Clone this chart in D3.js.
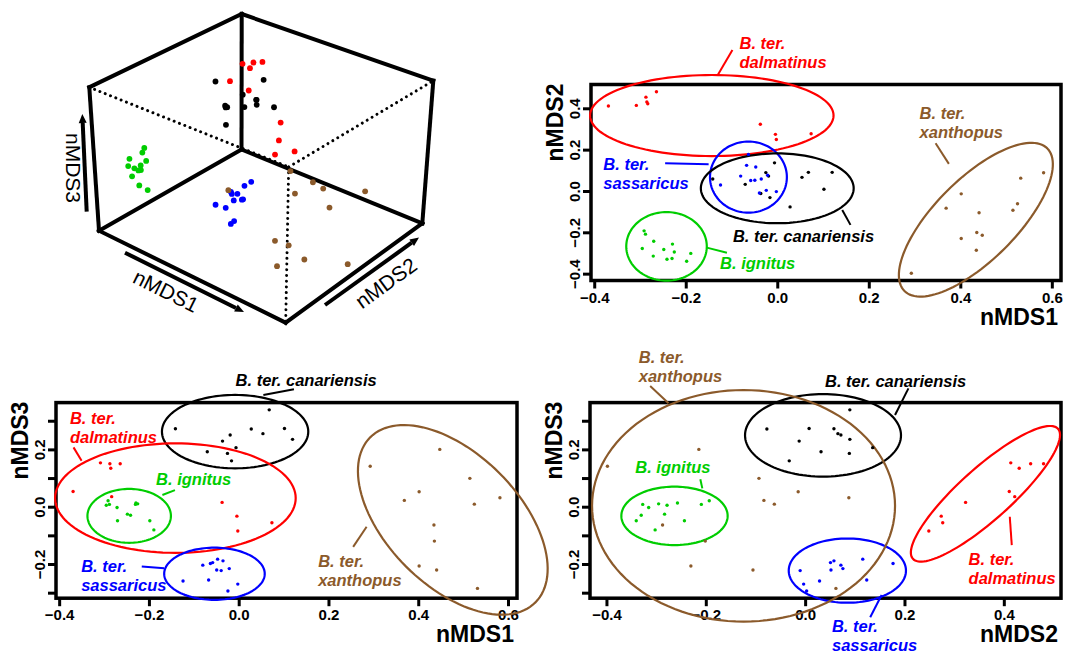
<!DOCTYPE html>
<html lang="en">
<head>
<meta charset="utf-8">
<title>nMDS ordination</title>
<script src="https://d3js.org/d3.v7.min.js"></script>
<style>
  body { margin: 0; background: #fff; }
  text { font-family: "Liberation Sans", Arial, Helvetica, sans-serif; }
</style>
</head>
<body>
<div id="chart"></div>
<script>
// specimen scores, one row per bee: [nMDS1, nMDS2, nMDS3]
const canariensis = [
  [0.068, 0.090, 0.338], [0.054, 0.066, 0.255], [-0.019, 0.072, 0.250],
  [0.120, 0.090, 0.235], [-0.036, -0.012, 0.229], [-0.006, 0.136, 0.206],
  [-0.070, 0.032, 0.192], [-0.025, 0.089, 0.186], [-0.016, -0.032, 0.160],
  [-0.141, 0.058, 0.272], [0.028, -0.077, 0.271], [0.102, 0.008, 0.273]
];
const dalmatinus = [
  [-0.369, 0.411, 0.053], [-0.308, 0.414, 0.153], [-0.287, 0.454, 0.150],
  [-0.285, 0.431, 0.134], [-0.283, 0.422, 0.035], [-0.264, 0.480, 0.150],
  [-0.037, 0.323, 0.015], [-0.004, 0.274, -0.033], [-0.002, 0.249, -0.085],
  [0.074, 0.277, -0.056]
];
const sassaricus = [
  [-0.024, 0.003, -0.294], [-0.002, -0.003, -0.270], [-0.124, 0.029, -0.259],
  [-0.067, 0.124, -0.256], [-0.049, 0.052, -0.221], [-0.039, -0.010, -0.223],
  [-0.021, 0.076, -0.216], [-0.080, 0.072, -0.204], [-0.063, 0.177, -0.198],
  [-0.058, 0.051, -0.195], [-0.035, 0.058, -0.189], [-0.047, 0.116, -0.183]
];
const ignitus = [
  [-0.189, -0.302, -0.081], [-0.198, -0.340, -0.049], [-0.270, -0.243, -0.049],
  [-0.241, -0.330, -0.030], [-0.248, -0.283, -0.026], [-0.271, -0.315, -0.003],
  [-0.295, -0.278, 0.005], [-0.291, -0.193, 0.021], [-0.288, -0.209, 0.008],
  [-0.230, -0.327, 0.008], [-0.229, -0.257, 0.013], [-0.225, -0.295, 0.010]
];
const xanthopus = [
  [0.293, -0.398, 0.141], [0.369, -0.083, 0.022], [0.402, -0.014, 0.052],
  [0.402, -0.230, -0.207], [0.435, -0.287, -0.064], [0.436, -0.201, -0.120],
  [0.441, -0.105, -0.221], [0.448, -0.214, 0.200], [0.515, -0.093, 0.099],
  [0.525, -0.062, 0.009], [0.532, 0.062, -0.285], [0.582, 0.088, 0.031]
];

const groupNames = ["canariensis", "dalmatinus", "sassaricus", "ignitus", "xanthopus"];
const groupData = { canariensis, dalmatinus, sassaricus, ignitus, xanthopus };
const groupColor = {
  canariensis: "#000000", dalmatinus: "#FF0000", sassaricus: "#0000FF",
  ignitus: "#00CD00", xanthopus: "#8B5A2B"
};

// group ellipses per panel: [group, cx, cy, ux, uy, vx, vy] (centre + two conjugate semi-axes)
const ell12 = [
  ["dalmatinus", -0.143, 0.365, 0.266, 0, 0, 0.196],
  ["sassaricus", -0.063, 0.067, 0.084, 0, 0, 0.172],
  ["canariensis", 0.000, 0.013, 0.167, 0, 0, 0.169],
  ["ignitus", -0.242, -0.268, 0.088, 0, 0, 0.166],
  ["xanthopus", 0.434, -0.139, 0.156, 0.345, 0.063, -0.139]
];
const ell13 = [
  ["canariensis", -0.008, 0.262, 0.163, 0, 0, 0.128],
  ["dalmatinus", -0.141, 0.030, 0.268, 0, 0, 0.191],
  ["ignitus", -0.244, -0.032, 0.093, 0, 0, 0.094],
  ["sassaricus", -0.054, -0.234, 0.112, 0, 0, 0.091],
  ["xanthopus", 0.477, -0.046, 0.184, -0.288, 0.104, 0.163]
];
const ell23 = [
  ["canariensis", 0.036, 0.249, 0.157, 0, 0, 0.144],
  ["ignitus", -0.263, -0.032, 0.107, 0, 0, 0.102],
  ["sassaricus", 0.085, -0.223, 0.118, 0, 0, 0.112],
  ["dalmatinus", 0.363, 0.045, 0.146, 0.227, 0.035, -0.067],
  ["xanthopus", -0.124, 0.003, 0.305, 0, 0, 0.404]
];

// group labels: [group, x, y, lines] and leader lines: [group, x1, y1, x2, y2]
const lab12 = [
  ["dalmatinus", -0.0825, 0.687, ["B. ter.", "dalmatinus"]],
  ["sassaricus", -0.380, 0.102, ["B. ter.", "sassaricus"]],
  ["canariensis", -0.097, -0.247, ["B. ter. canariensis"]],
  ["ignitus", -0.125, -0.379, ["B. ignitus"]],
  ["xanthopus", 0.311, 0.347, ["B. ter.", "xanthopus"]]
];
const lead12 = [
  ["dalmatinus", -0.098, 0.682, -0.130, 0.561],
  ["sassaricus", -0.245, 0.134, -0.150, 0.129],
  ["canariensis", 0.142, -0.092, 0.160, -0.164],
  ["ignitus", -0.154, -0.274, -0.110, -0.299],
  ["xanthopus", 0.346, 0.231, 0.375, 0.131]
];
const lab13 = [
  ["canariensis", -0.007, 0.421, ["B. ter. canariensis"]],
  ["dalmatinus", -0.376, 0.288, ["B. ter.", "dalmatinus"]],
  ["ignitus", -0.184, 0.076, ["B. ignitus"]],
  ["sassaricus", -0.351, -0.228, ["B. ter.", "sassaricus"]],
  ["xanthopus", 0.177, -0.209, ["B. ter.", "xanthopus"]]
];
const lead13 = [
  ["canariensis", 0.055, 0.390, 0.123, 0.410],
  ["dalmatinus", -0.368, 0.207, -0.350, 0.160],
  ["ignitus", -0.142, 0.058, -0.170, 0.041],
  ["sassaricus", -0.216, -0.209, -0.166, -0.215],
  ["xanthopus", 0.255, -0.140, 0.285, -0.070]
];
const lab23 = [
  ["xanthopus", -0.335, 0.500, ["B. ter.", "xanthopus"]],
  ["canariensis", 0.040, 0.416, ["B. ter. canariensis"]],
  ["ignitus", -0.342, 0.119, ["B. ignitus"]],
  ["dalmatinus", 0.329, -0.203, ["B. ter.", "dalmatinus"]],
  ["sassaricus", 0.054, -0.436, ["B. ter.", "sassaricus"]]
];
const lead23 = [
  ["xanthopus", -0.312, 0.421, -0.275, 0.361],
  ["canariensis", 0.208, 0.413, 0.181, 0.320],
  ["ignitus", -0.211, 0.096, -0.207, 0.064],
  ["dalmatinus", 0.412, -0.035, 0.416, -0.134],
  ["sassaricus", 0.154, -0.308, 0.131, -0.386]
];

const ticks1 = [-0.4, -0.2, 0, 0.2, 0.4, 0.6];
const ticks2 = [-0.4, -0.2, 0, 0.2, 0.4];
const ticks3 = [-0.3, -0.2, -0.1, 0, 0.1, 0.2, 0.3];
const ticks3Labelled = [-0.2, 0, 0.2];
const axisNames = ["nMDS1", "nMDS2", "nMDS3"];

const W = 1069, H = 653;
const svg = d3.select("#chart").append("svg").attr("width", W).attr("height", H);

const allPts = groupNames.flatMap(g => groupData[g].map(p => ({ g: g, p: p })));
// R style: data range padded by 4%
const paddedExtent = (i) => {
  const e = d3.extent(allPts, d => d.p[i]);
  const pad = (e[1] - e[0]) * 0.04;
  return [e[0] - pad, e[1] + pad];
};
const fmt = (v) => d3.format(".1f")(v).replace("-", "\u2212");

const panels = [
  { xi: 0, yi: 1, box: [591, 84.5, 1061, 280.5], xt: ticks1, yt: ticks2, yl: ticks2, ell: ell12, lab: lab12, lead: lead12 },
  { xi: 0, yi: 2, box: [56, 402.6, 517, 598.2], xt: ticks1, yt: ticks3, yl: ticks3Labelled, ell: ell13, lab: lab13, lead: lead13 },
  { xi: 1, yi: 2, box: [590, 402.6, 1061, 598.2], xt: ticks2, yt: ticks3, yl: ticks3Labelled, ell: ell23, lab: lab23, lead: lead23 }
];

panels.forEach((pn) => {
  const [x0, y0, x1, y1] = pn.box;
  const x = d3.scaleLinear().domain(paddedExtent(pn.xi)).range([x0, x1]);
  const y = d3.scaleLinear().domain(paddedExtent(pn.yi)).range([y1, y0]);
  const g = svg.append("g");

  // x axis
  g.append("g")
    .attr("transform", "translate(0," + y1 + ")")
    .call(d3.axisBottom(x).tickValues(pn.xt).tickSize(8).tickFormat(fmt))
    .call(a => a.select(".domain").remove())
    .call(a => a.selectAll("line").attr("stroke-width", 3))
    .call(a => a.selectAll("text").attr("y", 22).attr("dy", null)
      .style("font-size", "15px").style("font-weight", "bold"));

  // y axis, labels rotated like R's las = 0
  g.append("g")
    .attr("transform", "translate(" + x0 + ",0)")
    .call(d3.axisLeft(y).tickValues(pn.yt).tickSize(8)
      .tickFormat(v => pn.yl.some(l => Math.abs(l - v) < 1e-9) ? fmt(v) : ""))
    .call(a => a.select(".domain").remove())
    .call(a => a.selectAll("line").attr("stroke-width", 3))
    .call(a => a.selectAll("text").attr("transform", "rotate(-90)")
      .attr("x", 0).attr("y", -11).attr("dy", null).attr("text-anchor", "middle")
      .style("font-size", "15px").style("font-weight", "bold"));

  g.append("rect")
    .attr("x", x0).attr("y", y0).attr("width", x1 - x0).attr("height", y1 - y0)
    .attr("fill", "none").attr("stroke", "#000").attr("stroke-width", 3.5);

  g.append("text")
    .attr("x", x1 - 3).attr("y", y1 + 44)
    .attr("text-anchor", "end")
    .style("font-size", "23px").style("font-weight", "bold")
    .text(axisNames[pn.xi]);

  g.append("text")
    .attr("transform", "translate(" + (x0 - 28) + "," + (y0 - 1) + ") rotate(-90)")
    .attr("text-anchor", "end")
    .style("font-size", "23px").style("font-weight", "bold")
    .text(axisNames[pn.yi]);

  // ellipses
  const ts = d3.range(0, 2 * Math.PI, Math.PI / 60);
  const ellLine = d3.line().curve(d3.curveLinearClosed);
  g.selectAll(null).data(pn.ell).enter().append("path")
    .attr("d", (e) => ellLine(ts.map(t => [
      x(e[1] + e[3] * Math.cos(t) + e[5] * Math.sin(t)),
      y(e[2] + e[4] * Math.cos(t) + e[6] * Math.sin(t))
    ])))
    .attr("fill", "none")
    .attr("stroke", e => groupColor[e[0]])
    .attr("stroke-width", 2.2);

  // leader lines
  g.selectAll(null).data(pn.lead).enter().append("line")
    .attr("x1", d => x(d[1])).attr("y1", d => y(d[2]))
    .attr("x2", d => x(d[3])).attr("y2", d => y(d[4]))
    .attr("stroke", d => groupColor[d[0]])
    .attr("stroke-width", 2);

  // points
  g.selectAll(null).data(allPts).enter().append("circle")
    .attr("cx", d => x(d.p[pn.xi]))
    .attr("cy", d => y(d.p[pn.yi]))
    .attr("r", 1.7)
    .attr("fill", d => groupColor[d.g]);

  // group labels
  const lt = g.selectAll(null).data(pn.lab).enter().append("text")
    .attr("x", d => x(d[1])).attr("y", d => y(d[2]))
    .attr("fill", d => groupColor[d[0]])
    .style("font-size", "16.5px").style("font-weight", "bold").style("font-style", "italic");
  lt.selectAll("tspan").data(d => d[3].map(s => [d[1], s])).enter().append("tspan")
    .attr("x", function () { return d3.select(this.parentNode).attr("x"); })
    .attr("dy", (d, i) => i === 0 ? 0 : 19)
    .text(d => d[1]);
});

// ---- 3D perspective box (top left) ----
const corner = {
  BL: [99, 230.7], BF: [285.7, 322.7], BR: [422.3, 223.3], BB: [241.5, 149.5],
  TL: [89.3, 87.3], TF: [288.7, 167], TR: [433.3, 80.7], TB: [241.7, 14]
};
const u = d3.scaleLinear().domain(d3.extent(allPts, d => d.p[0])).range([0, 1]);
const v = d3.scaleLinear().domain(d3.extent(allPts, d => d.p[1])).range([0, 1]);
const w = d3.scaleLinear().domain(d3.extent(allPts, d => d.p[2])).range([0, 1]);

const bilin = (a, b, c, d, s, t) => [0, 1].map(k =>
  (1 - s) * (1 - t) * a[k] + s * (1 - t) * b[k] + s * t * c[k] + (1 - s) * t * d[k]);
const project = (p) => {
  const s = u(p[0]), t = v(p[1]), h = w(p[2]);
  const lo = bilin(corner.BL, corner.BF, corner.BR, corner.BB, s, t);
  const hi = bilin(corner.TL, corner.TF, corner.TR, corner.TB, s, t);
  return [lo[0] + (hi[0] - lo[0]) * h, lo[1] + (hi[1] - lo[1]) * h];
};

const g3 = svg.append("g");
const solidEdges = [["TB", "TL"], ["TB", "TR"], ["TB", "BB"], ["TL", "BL"], ["TR", "BR"],
  ["BL", "BF"], ["BF", "BR"], ["BL", "BB"], ["BB", "BR"]];
const dottedEdges = [["TL", "TF"], ["TF", "TR"], ["TF", "BF"]];

g3.selectAll(null).data(dottedEdges).enter().append("line")
  .attr("x1", d => corner[d[0]][0]).attr("y1", d => corner[d[0]][1])
  .attr("x2", d => corner[d[1]][0]).attr("y2", d => corner[d[1]][1])
  .attr("stroke", "#000").attr("stroke-width", 3)
  .attr("stroke-linecap", "round").attr("stroke-dasharray", "0.01 5.7");
g3.selectAll(null).data(solidEdges).enter().append("line")
  .attr("x1", d => corner[d[0]][0]).attr("y1", d => corner[d[0]][1])
  .attr("x2", d => corner[d[1]][0]).attr("y2", d => corner[d[1]][1])
  .attr("stroke", "#000").attr("stroke-width", 4).attr("stroke-linecap", "square");

g3.selectAll(null).data(allPts).enter().append("circle")
  .attr("cx", d => project(d.p)[0])
  .attr("cy", d => project(d.p)[1])
  .attr("r", 2.9)
  .attr("fill", d => groupColor[d.g]);

// axis arrows with their names
const arrows = [
  { from: [86.7, 211.7], to: [82.3, 114], name: "nMDS3", at: [73, 168], rot: 90 },
  { from: [125, 252.7], to: [244, 312], name: "nMDS1", at: [166, 291], rot: 26.5 },
  { from: [325, 305], to: [419, 237.5], name: "nMDS2", at: [386, 283], rot: -36 }
];
arrows.forEach((a) => {
  const dx = a.to[0] - a.from[0], dy = a.to[1] - a.from[1];
  const len = Math.hypot(dx, dy), ux = dx / len, uy = dy / len;
  const hl = 9, hw = 4;
  const base = [a.to[0] - ux * hl, a.to[1] - uy * hl];
  g3.append("line")
    .attr("x1", a.from[0]).attr("y1", a.from[1])
    .attr("x2", base[0]).attr("y2", base[1])
    .attr("stroke", "#000").attr("stroke-width", 4);
  g3.append("path")
    .attr("d", "M" + a.to + "L" + [base[0] - uy * hw, base[1] + ux * hw] +
      "L" + [base[0] + uy * hw, base[1] - ux * hw] + "Z")
    .attr("fill", "#000");
  g3.append("text")
    .attr("transform", "translate(" + a.at + ") rotate(" + a.rot + ")")
    .attr("text-anchor", "middle").attr("dy", "0.35em")
    .style("font-size", "21px")
    .text(a.name);
});
</script>
</body>
</html>
